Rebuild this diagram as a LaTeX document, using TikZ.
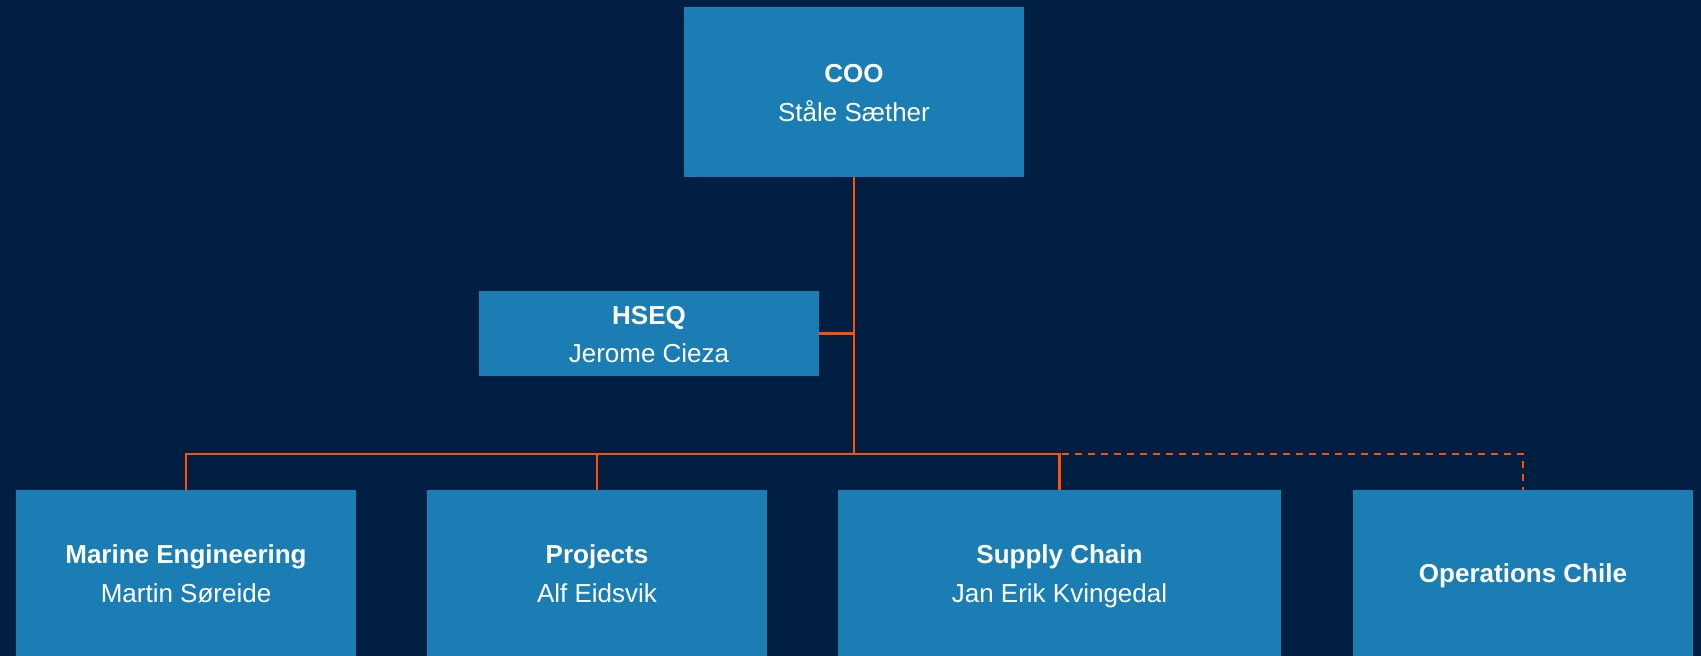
\documentclass[tikz,border=0pt]{standalone}
\usepackage{fontspec}
\setmainfont{Liberation Sans}
\definecolor{bgnavy}{RGB}{0,31,66}
\definecolor{boxblue}{RGB}{26,125,180}
\definecolor{linkorange}{RGB}{255,80,0}
\newcommand\ostrut{\rule[-9.5pt]{0pt}{38.5pt}}
\begin{document}
\begin{tikzpicture}[x=1pt,y=-1pt,
  orgbox/.style={fill=boxblue, draw=none, text=white, align=center, inner sep=0pt,
    font=\fontsize{26}{38.5}\selectfont, minimum width=340pt},
  link/.style={draw=linkorange, line width=2.6pt},
  dottedlink/.style={draw=linkorange, line width=2pt, dash pattern=on 7pt off 6pt}]
\fill[bgnavy] (0,0) rectangle (1701,656);
\useasboundingbox (0,0) rectangle (1701,656);
\node[orgbox, minimum height=170pt] (coo) at (854,92) {\ostrut\textbf{COO}\\\ostrut Ståle Sæther};
\node[orgbox, minimum height=85pt] (hseq) at (649,333.5) {\ostrut\textbf{HSEQ}\\\ostrut Jerome Cieza};
\node[orgbox, minimum height=166pt] (marine) at (186,573) {\ostrut\textbf{Marine Engineering}\\\ostrut Martin Søreide};
\node[orgbox, minimum height=166pt] (projects) at (597,573) {\ostrut\textbf{Projects}\\\ostrut Alf Eidsvik};
\node[orgbox, minimum height=166pt, minimum width=443pt] (supply) at (1059.5,573) {\ostrut\textbf{Supply Chain}\\\ostrut Jan Erik Kvingedal};
\node[orgbox, minimum height=166pt] (ops) at (1523,573) {\ostrut\textbf{Operations Chile}};
\coordinate (bus) at (854,454);
% dotted line to Operations Chile
\draw[dottedlink] (bus) -- (ops.north |- bus) -- (ops.north);
% solid lines
\draw[link] (coo.south) -- (bus);
\draw[link] (hseq.east) -- (hseq.east -| coo.south);
\draw[link] (marine.north) -- (marine.north |- bus) -- (supply.north |- bus) -- (supply.north);
\draw[link] (projects.north |- bus) -- (projects.north);
\end{tikzpicture}
\end{document}
